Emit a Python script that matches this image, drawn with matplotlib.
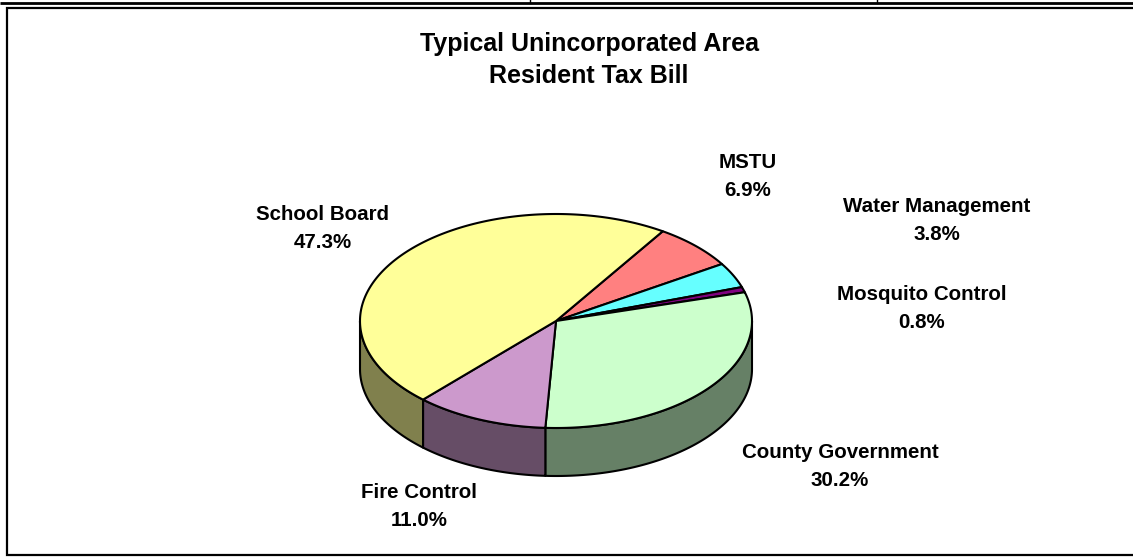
import numpy as np
import matplotlib
matplotlib.use("Agg")
import matplotlib.pyplot as plt
from matplotlib.patches import Polygon

# tax bill shares, in clockwise order starting from the top-right edge
labels = ["MSTU", "Water Management", "Mosquito Control",
          "County Government", "Fire Control", "School Board"]
shares = [6.9, 3.8, 0.8, 30.2, 11.0, 47.3]
top_colors = ["#FF8080", "#66FFFF", "#800080", "#CCFFCC", "#CC99CC", "#FFFF99"]

title_lines = ["Typical Unincorporated Area", "Resident Tax Bill"]

# label centres (pixel coords, y down)
label_pos = [(748, 162), (937, 207), (922, 295), (840, 453), (419, 493), (323, 215)]

# ellipse geometry of the tilted pie
cx, cy = 556, 321
rx, ry = 196, 107
depth = 48
start_angle = 57.0

plt.rcParams["font.family"] = ["Liberation Sans", "DejaVu Sans"]

fig = plt.figure(figsize=(11.33, 5.57), dpi=100)
ax = fig.add_axes([0, 0, 1, 1])
ax.set_xlim(0, 1133)
ax.set_ylim(557, 0)
ax.axis("off")


def darker(c, f=0.5):
    r, g, b = matplotlib.colors.to_rgb(c)
    return (r * f, g * f, b * f)


def arc(a0, a1, dy=0.0, n=200):
    t = np.radians(np.linspace(a0, a1, n))
    return np.column_stack([cx + rx * np.cos(t), cy - ry * np.sin(t) + dy])


# slice angles, going clockwise
fr = np.array(shares) / sum(shares) * 360.0
ends = start_angle - np.cumsum(fr)
starts = ends + fr

# side walls (only the front half shows)
for s, e, col in zip(starts, ends, top_colors):
    lo, hi = e % 360, s % 360
    if hi <= lo:
        hi += 360
    for off in (0, 360, -360):
        a = max(lo + off, 180)
        b = min(hi + off, 360)
        if b > a:
            top = arc(a, b)
            bot = arc(b, a, depth)
            ax.add_patch(Polygon(np.vstack([top, bot]), closed=True,
                                 facecolor=darker(col), edgecolor="black",
                                 lw=1.5, zorder=2, joinstyle="round"))

# top faces
for s, e, col in zip(starts, ends, top_colors):
    pts = np.vstack([[cx, cy], arc(s, e)])
    ax.add_patch(Polygon(pts, closed=True, facecolor=col, edgecolor="black",
                         lw=1.5, zorder=3, joinstyle="round"))

# slice labels
for (x, y), lab, v in zip(label_pos, labels, shares):
    ax.text(x, y, lab, ha="center", va="center", fontsize=14.8,
            fontweight="bold")
    ax.text(x, y + 28, f"{v:.1f}%", ha="center", va="center",
            fontsize=14.8, fontweight="bold")

ax.text(589, 44, title_lines[0], ha="center", va="center", fontsize=18,
        fontweight="bold")
ax.text(589, 76, title_lines[1], ha="center", va="center", fontsize=18,
        fontweight="bold")

# frame lines
ax.plot([0, 1133], [2.5, 2.5], color="black", lw=2, solid_capstyle="butt")
for xv in (530, 877):
    ax.plot([xv, xv], [0, 2.5], color="black", lw=1)
ax.plot([1133, 7, 7, 1133], [7.5, 7.5, 555, 555], color="black", lw=1.6,
        solid_joinstyle="miter")

fig.savefig("out.png", dpi=100)
